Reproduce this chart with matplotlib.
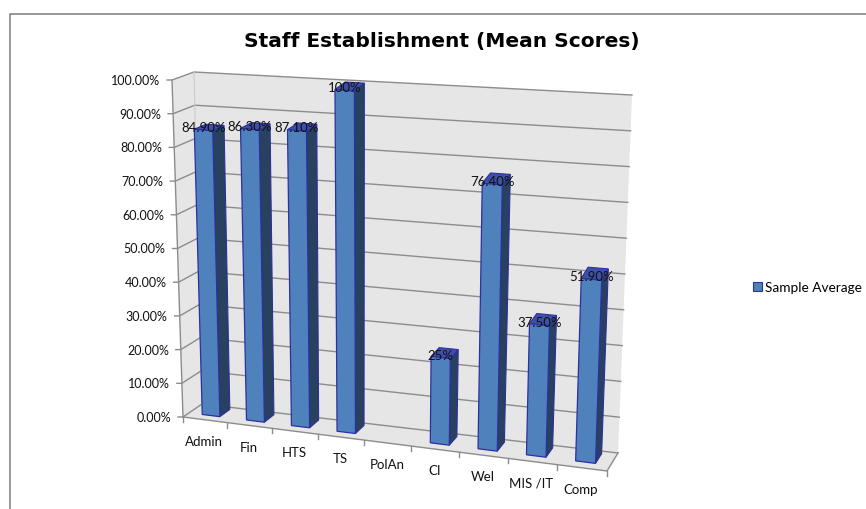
import numpy as np
import matplotlib
matplotlib.use("Agg")
import matplotlib.pyplot as plt
from matplotlib.patches import Polygon, Patch

plt.rcParams['font.family'] = ['Lato', 'DejaVu Sans']

# Datos del grafico
categories = ["Admin", "Fin", "HTS", "TS", "PolAn", "CI", "Wel", "MIS /IT", "Comp"]
values = [84.9, 86.3, 87.1, 100, None, 25, 76.4, 37.5, 51.9]
bar_labels = ["84.90%", "86.30%", "87.10%", "100%", "", "25%", "76.40%", "37.50%", "51.90%"]
y_ticks = [0, 10, 20, 30, 40, 50, 60, 70, 80, 90, 100]

# Esquinas de la caja 3D en pixeles: (frente/fondo, izquierda/derecha, abajo/arriba)
FLB = np.array([183, 418.0])
FRB = np.array([607, 472.0])
FLT = np.array([172, 81.0])
FRT = np.array([619, 121.0])
BLB = np.array([202, 405.0])
BRB = np.array([618, 454.0])
BLT = np.array([194, 73.0])
BRT = np.array([632, 96.0])
W = 1.07  # perspectiva a lo largo del eje x


def project(cat, val, depth):
    # cat en unidades de categoria, val en %, depth 0 = frente, 1 = fondo
    t = cat / len(categories)
    u = t / (t + W * (1 - t))
    v = val / 100
    front = (1 - v) * ((1 - u) * FLB + u * FRB) + v * ((1 - u) * FLT + u * FRT)
    back = (1 - v) * ((1 - u) * BLB + u * BRB) + v * ((1 - u) * BLT + u * BRT)
    return (1 - depth) * front + depth * back


fig = plt.figure(figsize=(8.66, 5.10), dpi=100)
ax = fig.add_axes([0, 0, 1, 1])
ax.set_xlim(0, 866)
ax.set_ylim(510, 0)
ax.axis("off")

n = len(categories)
wall = "#e6e6e6"
grid = "#8c8c8c"

# Borde del grafico
ax.plot([10, 10, 866], [510, 14.5, 14.5], color="#858585", lw=1.2, zorder=1)

# Paredes y piso
ax.add_patch(Polygon([BLB, BRB, BRT, BLT], fc=wall, ec="none", zorder=1))
ax.add_patch(Polygon([FLB, BLB, BLT, FLT], fc=wall, ec="none", zorder=1))
ax.add_patch(Polygon([FLB, FRB, BRB, BLB], fc=wall, ec="none", zorder=1))

for y in y_ticks:
    a = project(0, y, 0)
    b = project(0, y, 1)
    c = project(n, y, 1)
    ax.plot([a[0] - 5, a[0], b[0], c[0]], [a[1], a[1], b[1], c[1]], color=grid, lw=1, zorder=2)
    ax.text(a[0] - 12, a[1], f"{y:.2f}%", ha="right", va="center", fontsize=9, color="#111111")

# Ejes
a0, a1 = project(0, 0, 0), project(0, 100, 0)
ax.plot([a0[0], a1[0]], [a0[1], a1[1]], color=grid, lw=1, zorder=2)
a2 = project(0, 100, 1)
ax.plot([a2[0], project(0, 0, 1)[0]], [a2[1], project(0, 0, 1)[1]], color="#cccccc", lw=0.8, zorder=2)
e0, e1 = project(n, 0, 0), project(n, 0, 1)
ax.plot([a0[0], e0[0], e1[0]], [a0[1], e0[1], e1[1]], color=grid, lw=1, zorder=2)
for i in range(n + 1):
    p = project(i, 0, 0)
    ax.plot([p[0], p[0]], [p[1], p[1] + 5], color=grid, lw=1, zorder=2)

# Barras
front_c = "#4f81bd"
side_c = "#27415f"
top_c = "#3c50a5"
edge_c = "#2e2fa0"
d0, d1 = 0.32, 0.86
half = 0.2
for i, val in enumerate(values):
    if val is None:
        continue
    c0, c1 = i + 0.5 - half, i + 0.5 + half
    side = [project(c1, 0, d0), project(c1, 0, d1), project(c1, val, d1), project(c1, val, d0)]
    top = [project(c0, val, d0), project(c1, val, d0), project(c1, val, d1), project(c0, val, d1)]
    frontf = [project(c0, 0, d0), project(c1, 0, d0), project(c1, val, d0), project(c0, val, d0)]
    ax.add_patch(Polygon(side, fc=side_c, ec=edge_c, lw=0.8, zorder=3))
    ax.add_patch(Polygon(top, fc=top_c, ec=edge_c, lw=0.8, zorder=3))
    ax.add_patch(Polygon(frontf, fc=front_c, ec=edge_c, lw=0.9, zorder=3))

# Etiquetas de las barras y categorias
for i, val in enumerate(values):
    if val is not None:
        p = project(i + 0.5, val, d0)
        ax.text(p[0], p[1] - 3, bar_labels[i], ha="center", va="center", fontsize=9.5,
                color="#111111", zorder=5)
    q = project(i + 0.5, 0, 0)
    ax.text(q[0] - 1, q[1] + 21, categories[i], ha="center", va="center", fontsize=9.5, color="#111111")

ax.text(442, 41, "Staff Establishment (Mean Scores)", ha="center", va="center",
        fontsize=14.5, fontweight="bold", color="black", family="DejaVu Sans")

leg = ax.legend(handles=[Patch(fc=front_c, ec=edge_c, lw=0.8, label="Sample Average")],
                loc="center left", bbox_to_anchor=(753 / 866, 1 - 288 / 510), frameon=False,
                fontsize=9.8, handlelength=0.66, handleheight=0.66, handletextpad=0.25,
                borderpad=0, borderaxespad=0)

fig.savefig("out.png", dpi=100)
